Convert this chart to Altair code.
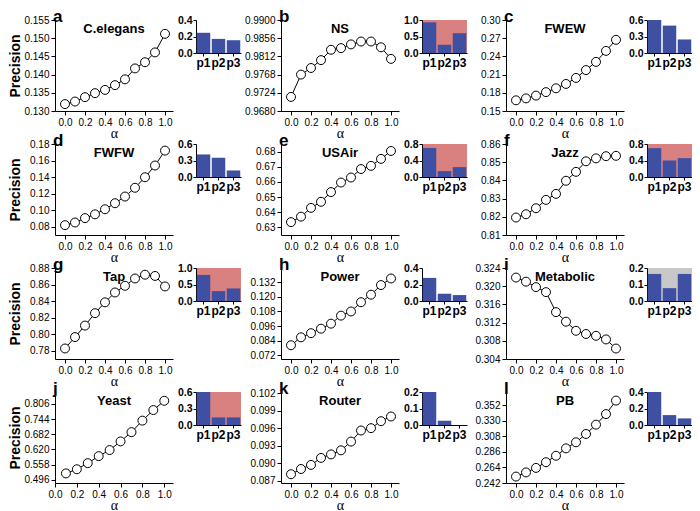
import altair as alt
import pandas as pd

# ---------------- data ----------------
alpha_full = [0.0, 0.1, 0.2, 0.3, 0.4, 0.5, 0.6, 0.7, 0.8, 0.9, 1.0]
alpha_yeast = [0.1, 0.2, 0.3, 0.4, 0.5, 0.6, 0.7, 0.8, 0.9, 1.0]

names = ["C.elegans", "NS", "FWEW", "FWFW", "USAir", "Jazz",
         "Tap", "Power", "Metabolic", "Yeast", "Router", "PB"]
letters = ["a", "b", "c", "d", "e", "f", "g", "h", "i", "j", "k", "l"]

prec_celegans = [0.1319, 0.1326, 0.1338, 0.1349, 0.1358, 0.1371, 0.1387, 0.1417, 0.1434, 0.1461, 0.1512]
prec_ns = [0.9714, 0.9768, 0.9784, 0.9803, 0.9828, 0.9832, 0.9841, 0.9848, 0.9848, 0.9834, 0.9806]
prec_fwew = [0.1676, 0.1708, 0.1754, 0.1811, 0.1874, 0.1946, 0.2045, 0.2175, 0.2310, 0.2491, 0.2673]
prec_fwfw = [0.0819, 0.0851, 0.0904, 0.0950, 0.1011, 0.1084, 0.1165, 0.1271, 0.1398, 0.1540, 0.1720]
prec_usair = [0.6335, 0.6371, 0.6429, 0.6469, 0.6533, 0.6596, 0.6629, 0.6685, 0.6706, 0.6752, 0.6804]
prec_jazz = [0.8196, 0.8214, 0.8247, 0.8293, 0.8326, 0.8398, 0.8447, 0.8505, 0.8521, 0.8533, 0.8535]
prec_tap = [0.7827, 0.7965, 0.8104, 0.8254, 0.8385, 0.8504, 0.8585, 0.8673, 0.8719, 0.8704, 0.8577]
prec_power = [0.0803, 0.0868, 0.0902, 0.0939, 0.0980, 0.1046, 0.1080, 0.1156, 0.1218, 0.1297, 0.1351]
prec_metabolic = [0.3219, 0.3210, 0.3198, 0.3187, 0.3143, 0.3122, 0.3102, 0.3095, 0.3091, 0.3083, 0.3063]
prec_yeast = [0.5222, 0.5392, 0.5641, 0.5928, 0.6177, 0.6530, 0.6909, 0.7380, 0.7812, 0.8191]
prec_router = [0.0881, 0.0890, 0.0897, 0.0909, 0.0915, 0.0922, 0.0937, 0.0956, 0.0960, 0.0972, 0.0980]
prec_pb = [0.2511, 0.2570, 0.2634, 0.2715, 0.2806, 0.2911, 0.2997, 0.3115, 0.3247, 0.3397, 0.3588]

bar_cats = ["p1", "p2", "p3"]
bars_celegans = [0.245, 0.171, 0.155]
bars_ns = [0.93, 0.25, 0.60]
bars_fwew = [0.60, 0.498, 0.246]
bars_fwfw = [0.41, 0.35, 0.119]
bars_usair = [0.704, 0.144, 0.24]
bars_jazz = [0.70, 0.40, 0.456]
bars_tap = [0.79, 0.30, 0.38]
bars_power = [0.28, 0.088, 0.072]
bars_metabolic = [0.164, 0.078, 0.164]
bars_yeast = [0.60, 0.138, 0.138]
bars_router = [0.20, 0.026, 0.0]
bars_pb = [0.40, 0.12, 0.08]

x_ticks = [0.0, 0.2, 0.4, 0.6, 0.8, 1.0]

y_ticks = [
    [0.130, 0.135, 0.140, 0.145, 0.150, 0.155],
    [0.9680, 0.9724, 0.9768, 0.9812, 0.9856, 0.9900],
    [0.15, 0.18, 0.21, 0.24, 0.27, 0.30],
    [0.08, 0.10, 0.12, 0.14, 0.16, 0.18],
    [0.63, 0.64, 0.65, 0.66, 0.67, 0.68],
    [0.81, 0.82, 0.83, 0.84, 0.85, 0.86],
    [0.78, 0.80, 0.82, 0.84, 0.86, 0.88],
    [0.072, 0.084, 0.096, 0.108, 0.120, 0.132],
    [0.304, 0.308, 0.312, 0.316, 0.320, 0.324],
    [0.496, 0.558, 0.620, 0.682, 0.744, 0.806],
    [0.087, 0.090, 0.093, 0.096, 0.099, 0.102],
    [0.242, 0.264, 0.286, 0.308, 0.330, 0.352],
]
y_domains = [
    [0.130, 0.155], [0.9680, 0.9900], [0.15, 0.30], [0.07, 0.18],
    [0.625, 0.685], [0.81, 0.86], [0.77, 0.88], [0.069, 0.1437],
    [0.304, 0.324], [0.483, 0.855], [0.0866, 0.1022], [0.242, 0.371],
]
y_formats = [".3f", ".4f", ".2f", ".2f", ".2f", ".2f", ".2f", ".3f", ".3f", ".3f", ".3f", ".3f"]

inset_top = [0.4, 1.0, 0.6, 0.6, 0.8, 0.8, 1.0, 0.4, 0.2, 0.6, 0.2, 0.4]
inset_bg = [None, "#d98080", None, None, "#d98080", "#d98080",
            "#d98080", None, "#c8c8c8", "#d98080", None, None]

precisions = [prec_celegans, prec_ns, prec_fwew, prec_fwfw, prec_usair, prec_jazz,
              prec_tap, prec_power, prec_metabolic, prec_yeast, prec_router, prec_pb]
bar_values = [bars_celegans, bars_ns, bars_fwew, bars_fwfw, bars_usair, bars_jazz,
              bars_tap, bars_power, bars_metabolic, bars_yeast, bars_router, bars_pb]

# ---------------- style ----------------
W, H = 118, 91
IW, IH = 45, 33
BAR = "#3f50a2"
SANS = "Liberation Sans"


def letter_layer(letter, visible=True):
    return alt.Chart(pd.DataFrame({"t": [letter]})).mark_text(
        font=SANS, fontSize=17, fontWeight="bold", align="left",
        baseline="alphabetic", color="black", opacity=1 if visible else 0,
    ).encode(text="t:N", x=alt.value(-2), y=alt.value(2))


def main_chart(i):
    col = i % 3
    xs = alpha_yeast if i == 9 else alpha_full
    xdom = [0.0, 1.08] if i == 9 else [-0.1, 1.08]
    df = pd.DataFrame({"alpha": xs, "precision": precisions[i]})
    ext = 30 if col == 0 else 36
    yaxis_kw = dict(values=y_ticks[i], format=y_formats[i], tickSize=4,
                    labelFontSize=10, labelPadding=2, minExtent=ext, maxExtent=ext,
                    labelFlush=False)
    if col == 0:
        yaxis_kw.update(title="Precision", titleFontSize=14, titleFontWeight="bold",
                        titlePadding=3)
    else:
        yaxis_kw.update(title=None)
    x = alt.X("alpha:Q", scale=alt.Scale(domain=xdom, nice=False, zero=False),
              axis=alt.Axis(values=x_ticks, format=".1f", title="α",
                            titleFont="Liberation Serif", titleFontSize=14,
                            titleFontWeight="normal", titlePadding=-1,
                            labelFontSize=10, labelPadding=2, tickSize=4,
                            labelFlush=False))
    y = alt.Y("precision:Q", scale=alt.Scale(domain=y_domains[i], nice=False, zero=False),
              axis=alt.Axis(**yaxis_kw))
    base = alt.Chart(df)
    line = base.mark_line(color="black", strokeWidth=1).encode(x=x, y=y)
    pts = base.mark_circle(size=80, color="white", stroke="black",
                           strokeWidth=1, opacity=1).encode(x=x, y=y)
    title = alt.Chart(pd.DataFrame({"t": [names[i]]})).mark_text(
        font=SANS, fontSize=13, fontWeight="bold", baseline="middle", color="black"
    ).encode(text="t:N", x=alt.value(W / 2), y=alt.value(9))
    return alt.layer(line, pts, title, letter_layer(letters[i])).properties(width=W, height=H)


def inset_chart(i):
    df = pd.DataFrame({"p": bar_cats, "v": bar_values[i]})
    top = inset_top[i]
    bars = alt.Chart(df).mark_bar(color=BAR).encode(
        x=alt.X("p:N", sort=bar_cats,
                scale=alt.Scale(paddingInner=0.1, paddingOuter=0.05),
                axis=alt.Axis(title=None, labelAngle=0, labelFontSize=12,
                              labelFontWeight="bold", tickSize=3, labelPadding=1)),
        y=alt.Y("v:Q", scale=alt.Scale(domain=[0, top], nice=False, zero=True),
                axis=alt.Axis(values=[0, top / 2, top], format=".1f", title=None,
                              labelFontWeight="bold", labelFontSize=10.5, tickSize=3,
                              labelPadding=1, minExtent=20, maxExtent=20,
                              labelFlush=False)),
    )
    props = dict(width=IW, height=IH)
    if inset_bg[i]:
        props["view"] = alt.ViewBackground(fill=inset_bg[i])
    return alt.layer(bars, letter_layer(letters[i], visible=False)).properties(**props)


charts = []
for i in range(12):
    charts.append(main_chart(i))
    charts.append(inset_chart(i))

chart = alt.concat(*charts, columns=6, spacing={"row": -8, "column": 3}).properties(
    padding=0
).configure_view(strokeWidth=0).configure_axis(
    domainColor="black", tickColor="black", labelColor="black", titleColor="black",
    grid=False, labelFont=SANS, titleFont=SANS, domainWidth=1, tickWidth=1,
)

chart.save("out.html", embed_options={"renderer": "svg", "actions": False})
